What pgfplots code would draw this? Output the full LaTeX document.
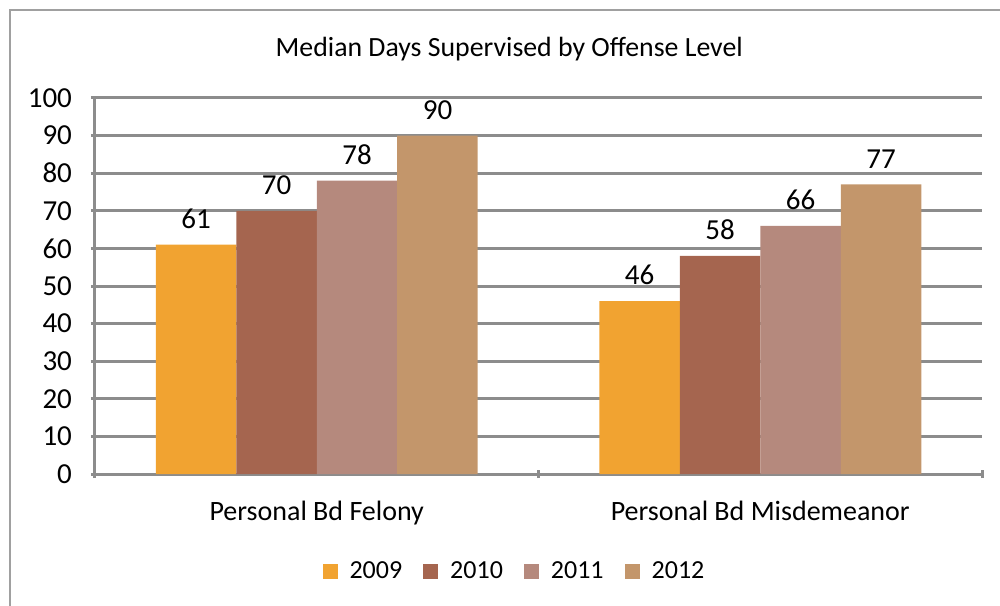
\documentclass[border=0pt]{standalone}
\usepackage{pgfplots}
\pgfplotsset{compat=1.18}
\usepackage{fontspec}
\setmainfont{Carlito}
\definecolor{c09}{HTML}{F1A331}
\definecolor{c10}{HTML}{A5654F}
\definecolor{c11}{HTML}{B5897D}
\definecolor{c12}{HTML}{C3966B}
\definecolor{gridgray}{HTML}{8C8C8C}
\definecolor{framegray}{HTML}{A0A0A0}
\begin{document}
\begin{tikzpicture}
\useasboundingbox (-47.5pt,-65.5pt) rectangle (452.5pt,237pt);
\draw[framegray, line width=0.9pt] (470pt,232pt) -- (-42.5pt,232pt) -- (-42.5pt,-80pt);
\begin{axis}[
  at={(0pt,0pt)}, anchor=south west,
  scale only axis, width=443.5pt, height=188pt,
  ybar=0pt, bar width=0.1815,
  xmin=-0.5, xmax=1.5, ymin=0, ymax=100,
  xtick={0,1}, xticklabels={Personal Bd Felony, Personal Bd Misdemeanor},
  minor xtick={-0.5,0.5,1.5},
  major x tick style={draw=none},
  ytick={0,10,...,100},
  tick align=outside,
  major tick length=4pt, minor tick length=4pt,
  tick style={gridgray, line width=1.5pt},
  axis x line=bottom, axis y line=left,
  axis line style={-, gridgray, line width=1.5pt},
  ymajorgrids, grid style={gridgray, line width=1.5pt},
  /pgf/number format/assume math mode=true,
  tick label style={font=\fontsize{14.5}{17}\selectfont, black},
  xticklabel style={yshift=-8pt, font=\fontsize{14}{17}\selectfont},
  yticklabel style={xshift=-6pt},
  nodes near coords,
  nodes near coords style={font=\fontsize{14.5}{17}\selectfont, black, yshift=4.5pt},
  title={Median Days Supervised by Offense Level},
  title style={at={(0.467,1.099)}, anchor=center, font=\fontsize{13.9}{16}\selectfont},
  legend style={at={(0.474,-0.26)}, anchor=center, draw=none, legend columns=4,
    font=\fontsize{13}{16}\selectfont,
    /tikz/every odd column/.append style={column sep=4pt},
    /tikz/every even column/.append style={column sep=8.5pt}},
  legend image code/.code={\fill[#1] (0pt,-3.75pt) rectangle (7.5pt,3.75pt);},
  clip=false,
]
\addplot[fill=c09, draw=none] coordinates {(0,61) (1,46)};
\addplot[fill=c10, draw=none] coordinates {(0,70) (1,58)};
\addplot[fill=c11, draw=none] coordinates {(0,78) (1,66)};
\addplot[fill=c12, draw=none] coordinates {(0,90) (1,77)};
\legend{2009,2010,2011,2012}
\end{axis}
\end{tikzpicture}
\end{document}
